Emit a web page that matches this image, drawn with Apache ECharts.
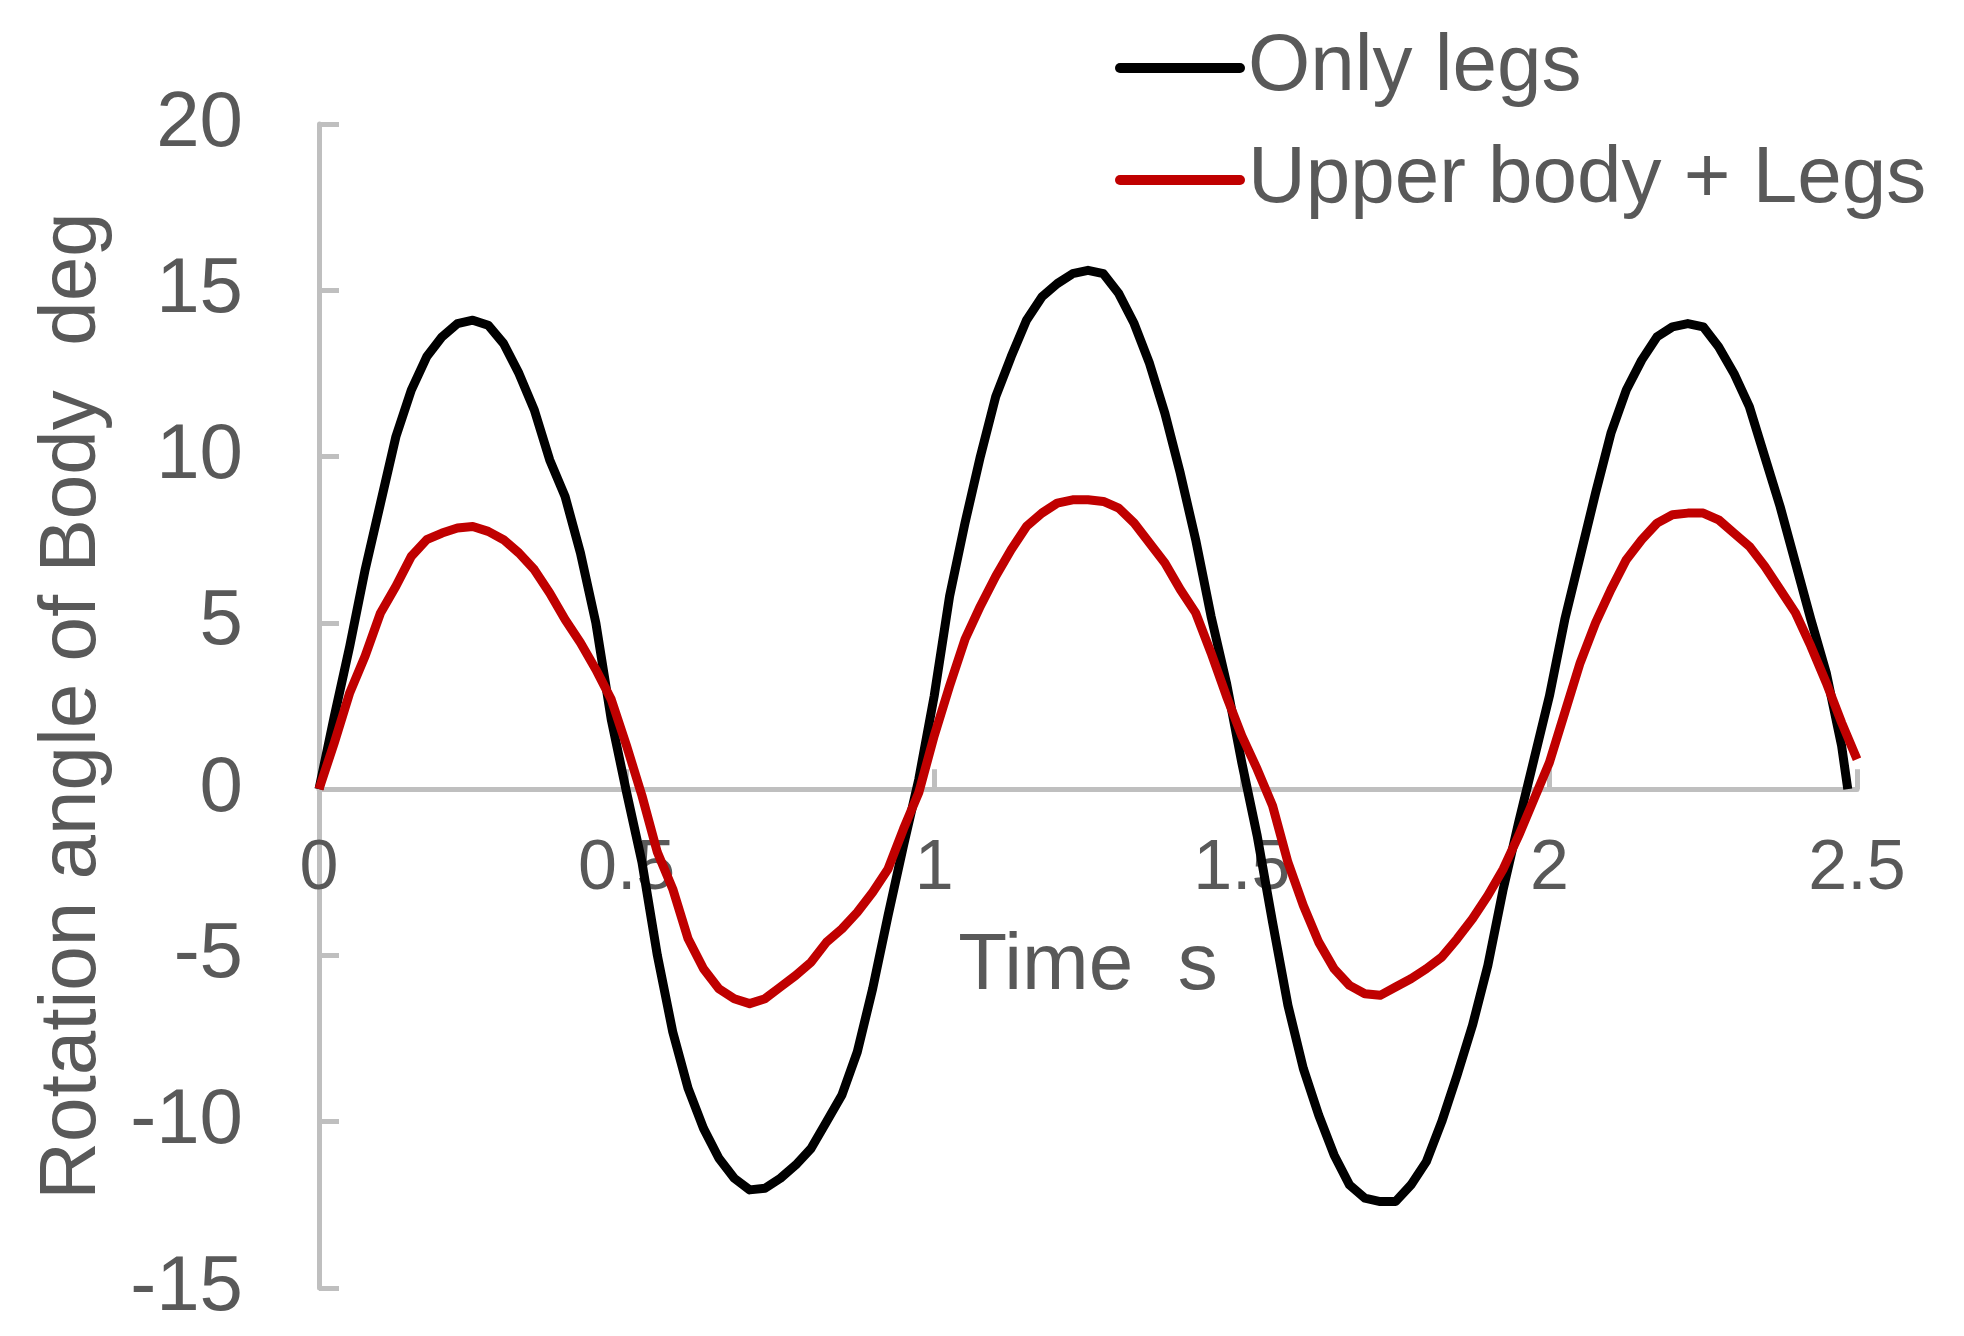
<!DOCTYPE html>
<html>
<head>
<meta charset="utf-8">
<script src="https://cdn.jsdelivr.net/npm/echarts@6/dist/echarts.min.js"></script>
<style>
html,body{margin:0;padding:0;background:#fff;}
#chart{width:1964px;height:1336px;}
</style>
</head>
<body>
<div id="chart"></div>
<script>
// Time samples (s)
var timesLegs = [0,0.025,0.05,0.075,0.1,0.125,0.15,0.175,0.2,0.225,0.25,0.275,0.3,0.325,0.35,0.375,0.4,0.425,0.45,0.475,0.5,0.525,0.55,0.575,0.6,0.625,0.65,0.675,0.7,0.725,0.75,0.775,0.8,0.825,0.85,0.875,0.9,0.925,0.95,0.975,1.0,1.025,1.05,1.075,1.1,1.125,1.15,1.175,1.2,1.225,1.25,1.275,1.3,1.325,1.35,1.375,1.4,1.425,1.45,1.475,1.5,1.525,1.55,1.575,1.6,1.625,1.65,1.675,1.7,1.725,1.75,1.775,1.8,1.825,1.85,1.875,1.9,1.925,1.95,1.975,2.0,2.025,2.05,2.075,2.1,2.125,2.15,2.175,2.2,2.225,2.25,2.275,2.3,2.325,2.35,2.375,2.4,2.425,2.45,2.475,2.485];
// Only legs (deg)
var onlyLegs = [0,2.2,4.3,6.6,8.6,10.6,12.0,13.0,13.6,14.0,14.1,13.95,13.4,12.5,11.4,9.9,8.8,7.1,5.0,2.1,-0.1,-2.2,-5.0,-7.3,-9.0,-10.2,-11.1,-11.7,-12.05,-12.0,-11.7,-11.3,-10.8,-10.0,-9.2,-7.9,-6.0,-3.8,-1.7,0.3,2.8,5.8,8.0,10.0,11.8,13.0,14.1,14.8,15.2,15.5,15.6,15.5,14.9,14.0,12.8,11.3,9.5,7.5,5.2,3.2,0.8,-1.4,-4.0,-6.5,-8.4,-9.8,-11.0,-11.9,-12.3,-12.4,-12.4,-11.9,-11.2,-10.0,-8.6,-7.1,-5.3,-3.0,-1.0,0.9,2.8,5.1,7.0,8.9,10.7,12.0,12.9,13.6,13.9,14.0,13.9,13.3,12.5,11.5,10.0,8.5,6.8,5.1,3.5,1.3,0];

var timesUpper = [0,0.025,0.05,0.075,0.1,0.125,0.15,0.175,0.2,0.225,0.25,0.275,0.3,0.325,0.35,0.375,0.4,0.425,0.45,0.475,0.5,0.525,0.55,0.575,0.6,0.625,0.65,0.675,0.7,0.725,0.75,0.775,0.8,0.825,0.85,0.875,0.9,0.925,0.95,0.975,1.0,1.025,1.05,1.075,1.1,1.125,1.15,1.175,1.2,1.225,1.25,1.275,1.3,1.325,1.35,1.375,1.4,1.425,1.45,1.475,1.5,1.525,1.55,1.575,1.6,1.625,1.65,1.675,1.7,1.725,1.75,1.775,1.8,1.825,1.85,1.875,1.9,1.925,1.95,1.975,2.0,2.025,2.05,2.075,2.1,2.125,2.15,2.175,2.2,2.225,2.25,2.275,2.3,2.325,2.35,2.375,2.4,2.425,2.45,2.475,2.5];
// Upper body + Legs (deg)
var upperLegs = [0,1.4,2.9,4.0,5.3,6.1,7.0,7.5,7.7,7.85,7.9,7.75,7.5,7.1,6.6,5.9,5.1,4.4,3.6,2.7,1.3,-0.2,-1.9,-3.0,-4.5,-5.4,-6.0,-6.3,-6.45,-6.3,-5.95,-5.6,-5.2,-4.6,-4.2,-3.7,-3.1,-2.4,-1.2,-0.1,1.6,3.1,4.5,5.5,6.4,7.2,7.9,8.3,8.6,8.7,8.7,8.65,8.45,8.0,7.4,6.8,6.0,5.3,4.1,2.8,1.6,0.6,-0.5,-2.2,-3.5,-4.6,-5.4,-5.9,-6.15,-6.2,-5.95,-5.7,-5.4,-5.05,-4.5,-3.9,-3.2,-2.4,-1.4,-0.3,0.8,2.3,3.8,5.0,6.0,6.9,7.5,8.0,8.25,8.3,8.3,8.1,7.7,7.3,6.7,6.0,5.3,4.3,3.2,2.0,0.9];

var seriesNames = ['Only legs', 'Upper body + Legs'];
var xTitle = 'Time  s';
var yTitle = 'Rotation angle of Body  deg';
var yMin = -15, yMax = 20, yStep = 5;
var xMin = 0, xMax = 2.5, xStep = 0.5;

function pairs(t, v) { return t.map(function (x, i) { return [x, v[i]]; }); }

var W = 1964, H = 1336;
var gridLeft = 319, gridRight = 107, gridTop = 124, gridBottom = 48;
var plotH = H - gridTop - gridBottom;
// lift the x axis (line, ticks, labels, name) up to the y = 0 line
var zeroOffset = -plotH * (0 - yMin) / (yMax - yMin);

var chart = echarts.init(document.getElementById('chart'), null, {renderer: 'canvas'});
var font = "'Liberation Sans', Arial, sans-serif";
var textColor = '#595959';
var axisColor = '#BFBFBF';

chart.setOption({
  animation: false,
  backgroundColor: '#ffffff',
  grid: {left: gridLeft, right: gridRight, top: gridTop, bottom: gridBottom, containLabel: false, outerBoundsMode: 'none'},
  legend: {
    orient: 'vertical',
    left: 1110,
    top: 23,
    itemWidth: 120,
    itemHeight: 12,
    itemGap: 32,
    data: seriesNames,
    lineStyle: {width: 10, cap: 'round'},
    textStyle: {fontSize: 80, color: textColor, fontFamily: font, lineHeight: 80, padding: [0, 0, 0, 3]}
  },
  xAxis: {
    type: 'value',
    min: xMin, max: xMax, interval: xStep,
    offset: zeroOffset,
    name: xTitle,
    nameLocation: 'middle',
    nameGap: 138,
    nameTextStyle: {fontSize: 80, color: textColor, fontFamily: font, lineHeight: 80},
    axisLine: {show: true, onZero: false, lineStyle: {color: axisColor, width: 5}},
    axisTick: {show: true, inside: true, length: 20, lineStyle: {color: axisColor, width: 5}},
    axisLabel: {fontSize: 70, color: textColor, fontFamily: font, margin: 46},
    splitLine: {show: false}
  },
  yAxis: {
    type: 'value',
    min: yMin, max: yMax, interval: yStep,
    name: yTitle,
    nameLocation: 'middle',
    nameGap: 206,
    nameRotate: 90,
    nameTextStyle: {fontSize: 80, color: textColor, fontFamily: font, lineHeight: 80},
    axisLine: {show: true, onZero: false, lineStyle: {color: axisColor, width: 5}},
    axisTick: {show: true, inside: true, length: 20, lineStyle: {color: axisColor, width: 5}},
    axisLabel: {fontSize: 78, color: textColor, fontFamily: font, margin: 76},
    splitLine: {show: false}
  },
  series: [
    {name: seriesNames[0], type: 'line', symbol: 'none', smooth: false,
     data: pairs(timesLegs, onlyLegs),
     lineStyle: {color: '#000000', width: 9, join: 'round'}, itemStyle: {color: '#000000'}},
    {name: seriesNames[1], type: 'line', symbol: 'none', smooth: false,
     data: pairs(timesUpper, upperLegs),
     lineStyle: {color: '#C00000', width: 9, join: 'round'}, itemStyle: {color: '#C00000'}}
  ]
});
</script>
</body>
</html>
